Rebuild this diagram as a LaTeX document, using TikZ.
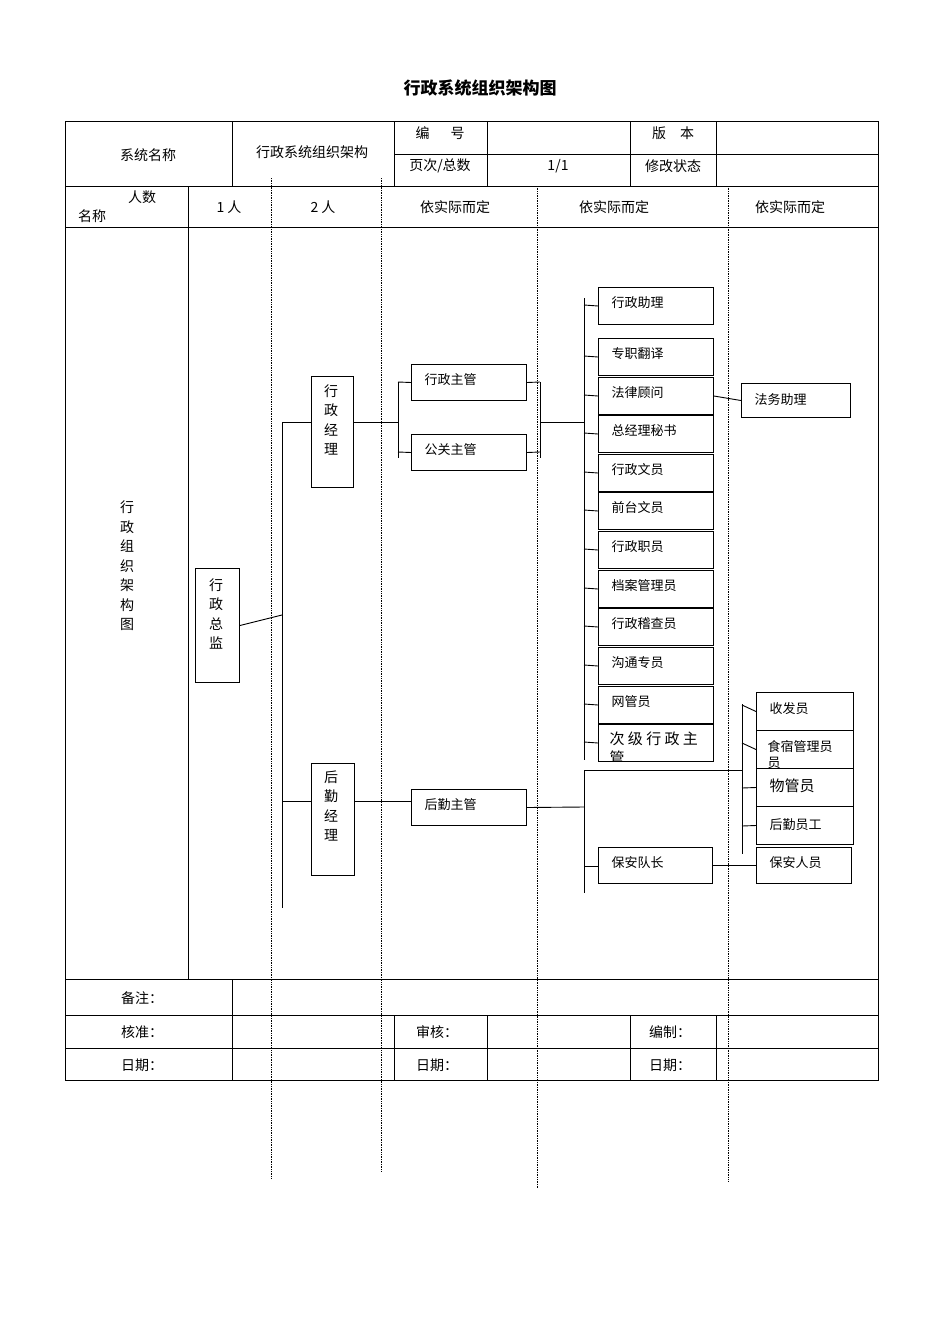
\documentclass[tikz,border=0pt]{standalone}
\usepackage{fontspec}
\setmainfont{Noto Sans CJK SC}
\begin{document}
\begin{tikzpicture}[x=1pt,y=-1pt,
  ln/.style={line width=0.9pt},
  dl/.style={densely dotted,line width=0.7pt},
  bx/.style={draw,line width=1pt,anchor=north west,inner sep=0pt},
  tx/.style={font=\fontsize{14}{16}\selectfont},
  bt/.style={font=\fontsize{13}{15}\selectfont,anchor=west}]
\useasboundingbox (0,0) rectangle (950,1344);
\node[font=\bfseries\fontsize{17}{20}\selectfont] (title) at (480,88) {行政系统组织架构图};
% table
\draw[ln] (65,121) rectangle (878,1080);
\foreach \y in {186,227,979,1015,1048} \draw[ln] (65,\y) -- (878,\y);
\draw[ln] (394,154) -- (878,154);
\foreach \x in {232,394,487,630,716} \draw[ln] (\x,121) -- (\x,186);
\draw[ln] (188,186) -- (188,979);
\draw[ln] (232,979) -- (232,1080);
\foreach \x in {394,487,630,716} \draw[ln] (\x,1015) -- (\x,1080);
\draw[dl] (271,178) -- (271,1178);
\draw[dl] (381,178) -- (381,1172);
\draw[dl] (537,186) -- (537,1188);
\draw[dl] (728,186) -- (728,1182);
% header texts
\node[tx] (t1) at (148,155) {系统名称};
\node[tx] (t2) at (312,152) {行政系统组织架构};
\node[tx] (t3) at (440,133) {编\hspace{1.5em}号};
\node[tx] (t4) at (440,166) {页次/总数};
\node[tx] (t5) at (558,166) {1/1};
\node[tx] (t6) at (673,133) {版\hspace{1em}本};
\node[tx] (t7) at (673,166) {修改状态};
\node[tx] (t8) at (142,197) {人数};
\node[tx] (t9) at (92,216) {名称};
\node[tx] (t10) at (229,207) {1 人};
\node[tx] (t11) at (323,207) {2 人};
\node[tx] (t12) at (455,207) {依实际而定};
\node[tx] (t13) at (614,207) {依实际而定};
\node[tx] (t14) at (790,207) {依实际而定};
\node[tx,align=center,font=\fontsize{14}{19.5}\selectfont] (side) at (127,566) {行\\政\\组\\织\\架\\构\\图};
\node[tx] (b1) at (142,998) {备注：};
\node[tx] (b2) at (142,1032) {核准：};
\node[tx] (b3) at (142,1065) {日期：};
\node[tx] (b4) at (437,1032) {审核：};
\node[tx] (b5) at (437,1065) {日期：};
\node[tx] (b6) at (670,1032) {编制：};
\node[tx] (b7) at (670,1065) {日期：};
% vertical boxes
\node[bx,minimum width=44,minimum height=114] (zj) at (195,568) {};
\node[tx,align=center,font=\fontsize{14}{19.5}\selectfont] at (216,614) {行\\政\\总\\监};
\node[bx,minimum width=42,minimum height=111] (xjl) at (311,376) {};
\node[tx,align=center,font=\fontsize{14}{19.5}\selectfont] at (331,420) {行\\政\\经\\理};
\node[bx,minimum width=43,minimum height=112] (hjl) at (311,763) {};
\node[tx,align=center,font=\fontsize{14}{19.5}\selectfont] at (331,806) {后\\勤\\经\\理};
% level 3
\node[bx,minimum width=115,minimum height=36] (xzg) at (411,364) {};
\node[bt] at (421,380) {行政主管};
\node[bx,minimum width=115,minimum height=36] (ggg) at (411,434) {};
\node[bt] at (421,450) {公关主管};
\node[bx,minimum width=115,minimum height=36] (hqg) at (411,789) {};
\node[bt] at (421,805) {后勤主管};
% level 4
\foreach \n/\t/\y in {a/行政助理/287,b/专职翻译/338,c/法律顾问/377,d/总经理秘书/415,e/行政文员/454,f/前台文员/492,g/行政职员/531,h/档案管理员/570,i/行政稽查员/608,j/沟通专员/647,k/网管员/686}{
  \node[bx,minimum width=115,minimum height=37] (\n) at (598,\y) {};
  \node[bt] at (608,\y+16) {\t};
  \draw[ln] (584,\y+18) -- (\n.west);
}
\node[bx,minimum width=115,minimum height=37] (l) at (598,724) {};
\begin{scope}
\clip (598,724) rectangle (713,761);
\node[anchor=north west,align=left,font=\fontsize{15}{19}\selectfont] at (606,728) {次 级 行 政 主\\管};
\end{scope}
\draw[ln] (584,742) -- (l.west);
\node[bx,minimum width=114,minimum height=36] (ba) at (598,847) {};
\node[bt] at (608,863) {保安队长};
% level 5
\node[bx,minimum width=109,minimum height=34] (fw) at (741,383) {};
\node[bt] at (751,400) {法务助理};
\node[bx,minimum width=97,minimum height=38] (sf) at (756,692) {};
\node[bt] at (766,709) {收发员};
\node[bx,minimum width=97,minimum height=38] (ss) at (756,730) {};
\begin{scope}
\clip (756,730) rectangle (853,768);
\node[anchor=north west,align=left,font=\fontsize{13}{16}\selectfont] at (764,737) {食宿管理员\\员};
\end{scope}
\node[bx,minimum width=97,minimum height=38] (wg) at (756,768) {};
\node[bt,font=\fontsize{15}{17}\selectfont] at (766,786) {物管员};
\node[bx,minimum width=97,minimum height=38] (hq) at (756,806) {};
\node[bt] at (766,825) {后勤员工};
\node[bx,minimum width=95,minimum height=36] (br) at (756,847) {};
\node[bt] at (766,863) {保安人员};
% connectors
\coordinate (bus1t) at (282,422);
\coordinate (bus1b) at (282,908);
\draw[ln] (zj.east) -- (282,615);
\draw[ln] (bus1t) -- (bus1b);
\draw[ln] (bus1t) -- (xjl.west |- bus1t);
\draw[ln] (282,801) -- (hjl.west |- 0,801);
\draw[ln] (xjl.east |- 0,422) -- (398,422);
\draw[ln] (398,382) -- (398,458);
\draw[ln] (398,382) -- (xzg.west);
\draw[ln] (398,452) -- (ggg.west);
\draw[ln] (xzg.east) -- (540,382);
\draw[ln] (ggg.east) -- (540,452);
\draw[ln] (540,382) -- (540,458);
\draw[ln] (540,422) -- (584,422);
\draw[ln] (584,298) -- (584,760);
\draw[ln] (c.east) -- (fw.west);
\draw[ln] (hjl.east |- 0,801) -- (hqg.west |- 0,801);
\draw[ln] (hqg.east) -- (584,807);
\draw[ln] (584,770) -- (584,893);
\draw[ln] (584,770) -- (742,770);
\draw[ln] (742,704) -- (742,854);
\draw[ln] (742,705) -- (sf.west);
\draw[ln] (742,743) -- (ss.west);
\draw[ln] (742,788) -- (wg.west);
\draw[ln] (742,826) -- (hq.west);
\draw[ln] (584,866) -- (ba.west |- 0,866);
\draw[ln] (ba.east) -- (br.west);
\end{tikzpicture}
\end{document}
